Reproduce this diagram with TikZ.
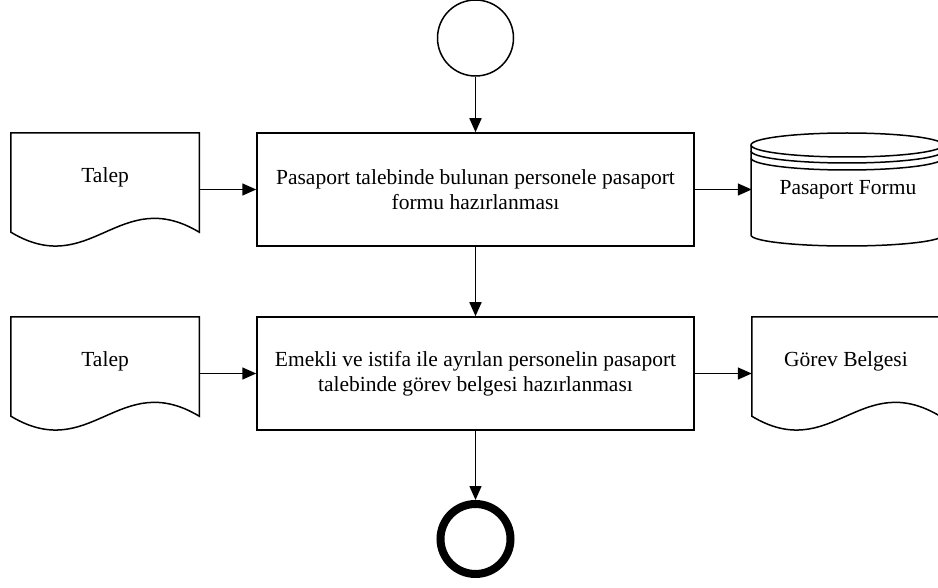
\documentclass[tikz,border=0pt]{standalone}
\usepackage{fontspec}
\setmainfont{Liberation Serif}
\usetikzlibrary{positioning,arrows.meta}

\tikzset{
  cizgi/.style={line width=1.5pt},
  yazi/.style={font=\fontsize{21.5}{25}\selectfont},
  kutu/.style={cizgi, draw, rectangle, yazi, align=center,
    minimum width=437pt, minimum height=113pt},
  belge/.style={rectangle, inner sep=0pt, minimum width=188pt, minimum height=113pt},
  ok/.style={cizgi, -{Triangle[length=14pt,width=12pt]}}
}

% Belge sekli (alti dalgali)
\newcommand{\belgeciz}[1]{%
  \draw[cizgi] ([yshift=14pt]#1.south west) -- (#1.north west) -- (#1.north east)
    -- ([yshift=14pt]#1.south east)
    .. controls +(-80,-48) and +(80,48) .. ([yshift=14pt]#1.south west) -- cycle;
}

\begin{document}
\begin{tikzpicture}[x=1pt, y=-1pt]

% Cerceve
\fill[white] (0,0) rectangle (938,588);
\clip (0,0) rectangle (938,588);

% Baslangic ve bitis
\node[cizgi, draw, circle, minimum size=76pt] (bas) at (475.5,38) {};
\node[line width=8pt, draw, circle, minimum size=70pt] (son) at (475.5,539) {};

% Islem kutulari
\node[kutu] (is1) at (475.5,189.5) {Pasaport talebinde bulunan personele pasaport\\formu hazırlanması};
\node[kutu] (is2) at (475.5,373.5) {Emekli ve istifa ile ayrılan personelin pasaport\\talebinde görev belgesi hazırlanması};

% Girdiler
\node[belge, left=57pt of is1] (talep1) {};
\node[belge, left=57pt of is2] (talep2) {};
\node[belge, right=57pt of is2] (gorev) {};
\foreach \b in {talep1,talep2,gorev} {
    \belgeciz{\b}
}
\node[yazi] (talep1yazi) at ([yshift=12pt]talep1.center) {Talep};
\node[yazi] (talep2yazi) at ([yshift=12pt]talep2.center) {Talep};
\node[yazi] (gorevyazi) at ([yshift=12pt]gorev.center) {Görev Belgesi};

% Veri tabani (silindir)
\node[yazi, rectangle, inner sep=0pt, minimum width=192pt, minimum height=113pt,
  right=57pt of is1] (form) {Pasaport Formu};
\draw[cizgi] (751,145) -- (751,235)
  .. controls (751,241.1) and (794,246) .. (847,246)
  .. controls (900,246) and (943,241.1) .. (943,235) -- (943,145);
\draw[cizgi] (751,145) .. controls (751,138.4) and (794,133) .. (847,133)
  .. controls (900,133) and (943,138.4) .. (943,145)
  .. controls (943,151.6) and (900,157) .. (847,157)
  .. controls (794,157) and (751,151.6) .. (751,145) -- cycle;
\foreach \y in {151,158} {
    \draw[cizgi] (751,\y) .. controls (751,\y+6.6) and (794,\y+12) .. (847,\y+12)
      .. controls (900,\y+12) and (943,\y+6.6) .. (943,\y);
}

% Oklar
\draw[ok] (bas.south) -- (is1.north);
\draw[ok] (is1.south) -- (is2.north);
\draw[ok] (is2.south) -- (son.north);
\draw[ok] (talep1.east) -- (is1.west);
\draw[ok] (talep2.east) -- (is2.west);
\draw[ok] (is1.east) -- (form.west);
\draw[ok] (is2.east) -- (gorev.west);

\end{tikzpicture}
\end{document}
